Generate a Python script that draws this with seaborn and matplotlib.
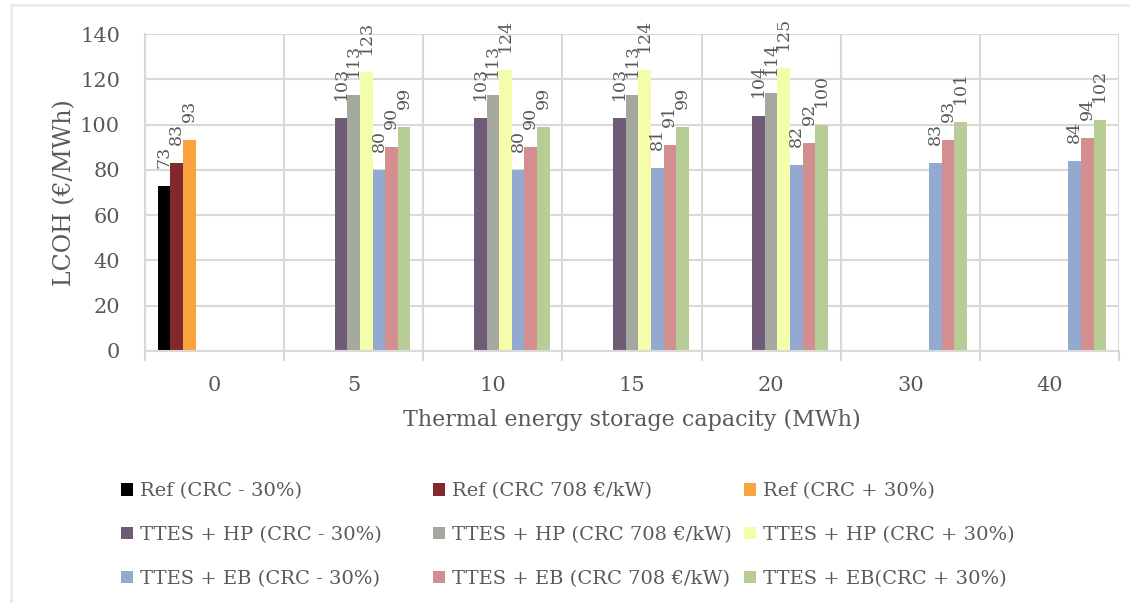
import matplotlib
matplotlib.use("Agg")
import matplotlib.pyplot as plt
from matplotlib.lines import Line2D
from matplotlib.patches import Patch
from matplotlib.ticker import FixedLocator, MultipleLocator
import numpy as np
import pandas as pd
import seaborn as sns

# Storage capacities (MWh) on the x axis
capacities = ["0", "5", "10", "15", "20", "30", "40"]

series_names = [
    "Ref (CRC - 30%)",
    "Ref (CRC 708 €/kW)",
    "Ref (CRC + 30%)",
    "TTES + HP (CRC - 30%)",
    "TTES + HP (CRC 708 €/kW)",
    "TTES + HP (CRC + 30%)",
    "TTES + EB (CRC - 30%)",
    "TTES + EB (CRC 708 €/kW)",
    "TTES + EB(CRC + 30%)",
]

# LCOH values (€/MWh); None where a configuration has no result
ref_low = [73, None, None, None, None, None, None]
ref_mid = [83, None, None, None, None, None, None]
ref_high = [93, None, None, None, None, None, None]
hp_low = [None, 103, 103, 103, 104, None, None]
hp_mid = [None, 113, 113, 113, 114, None, None]
hp_high = [None, 123, 124, 124, 125, None, None]
eb_low = [None, 80, 80, 81, 82, 83, 84]
eb_mid = [None, 90, 90, 91, 92, 93, 94]
eb_high = [None, 99, 99, 99, 100, 101, 102]

series_values = [ref_low, ref_mid, ref_high, hp_low, hp_mid, hp_high,
                 eb_low, eb_mid, eb_high]

colors = ["#000000", "#82292E", "#FBA33F",
          "#6F5B75", "#A5A89E", "#F3FDAA",
          "#93A9D0", "#D38F8F", "#B8CC96"]

rows = []
for name, vals in zip(series_names, series_values):
    for cap, v in zip(capacities, vals):
        if v is not None:
            rows.append({"capacity": cap, "series": name, "lcoh": v})
df = pd.DataFrame(rows)

sns.set_theme(style="white")
plt.rcParams["font.family"] = ["DejaVu Serif"]
text_gray = "#595959"
grid_gray = "#D9D9D9"

W, H = 1137, 603
fig = plt.figure(figsize=(W / 100, H / 100), dpi=100)
ax = fig.add_axes([145 / W, 1 - 351 / H, (1119 - 145) / W, (351 - 34) / H])

sns.barplot(data=df, x="capacity", y="lcoh", hue="series",
            order=capacities, hue_order=series_names,
            palette=dict(zip(series_names, colors)),
            width=0.815, saturation=1, errorbar=None,
            linewidth=0, legend=False, ax=ax)

for container in ax.containers:
    heights = [b.get_height() for b in container]
    ax.bar_label(container, labels=[f"{h:.0f}" for h in heights],
                 padding=13, rotation=90, fontsize=12.5, color=text_gray)

ax.set_ylim(0, 140)
ax.set_xlim(-0.5, len(capacities) - 0.5)
ax.yaxis.set_major_locator(MultipleLocator(20))
ax.xaxis.set_minor_locator(FixedLocator(np.arange(-0.5, len(capacities), 1.0)))

ax.grid(axis="y", which="major", color=grid_gray, linewidth=1.5)
ax.grid(axis="x", which="minor", color=grid_gray, linewidth=1.5)
ax.grid(axis="x", which="major", visible=False)
ax.set_axisbelow(True)

for side in ["top", "right"]:
    ax.spines[side].set_visible(False)
for side in ["left", "bottom"]:
    ax.spines[side].set_color(grid_gray)
    ax.spines[side].set_linewidth(1.5)

ax.tick_params(axis="x", which="major", length=0, pad=18, labelsize=15, colors=text_gray)
ax.tick_params(axis="x", which="minor", length=7, width=1.5, color=grid_gray, bottom=True)
ax.tick_params(axis="y", length=0, pad=18, labelsize=15, colors=text_gray)

ax.set_xlabel("Thermal energy storage capacity (MWh)", fontsize=16, color=text_gray, labelpad=10)
ax.set_ylabel("LCOH (€/MWh)", fontsize=17, color=text_gray)
ax.yaxis.set_label_coords((76 - 145) / (1119 - 145), 0.5)

# Legend: three evenly spaced columns, one per cost scenario
col_x = [121, 433, 744]
for c, x0 in enumerate(col_x):
    idx = [c, c + 3, c + 6]
    handles = [Patch(facecolor=colors[i], edgecolor="none") for i in idx]
    labels = [series_names[i] for i in idx]
    fig.legend(handles, labels, loc="center left",
               bbox_to_anchor=(x0 / W, 1 - 535 / H), frameon=False,
               fontsize=14, labelcolor=text_gray,
               handlelength=0.62, handleheight=0.62, handletextpad=0.36,
               labelspacing=1.33, borderpad=0, borderaxespad=0)

# Outer frame lines
frame_color = "#EEEBE0"
fig.add_artist(Line2D([11 / W, 11 / W], [0, 1 - 5 / H], transform=fig.transFigure,
                      color=frame_color, linewidth=2))
fig.add_artist(Line2D([11 / W, 1128 / W], [1 - 5 / H, 1 - 5 / H], transform=fig.transFigure,
                      color=frame_color, linewidth=2))

fig.savefig("out.png", dpi=100)
